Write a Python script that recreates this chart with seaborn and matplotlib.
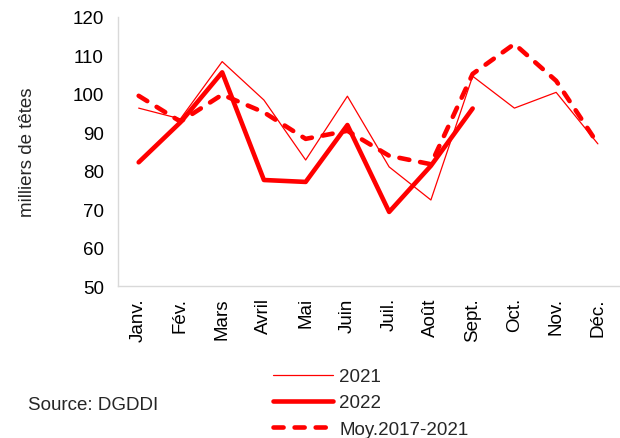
import pandas as pd
import matplotlib.pyplot as plt
import seaborn as sns

months = ["Janv.", "Fév.", "Mars", "Avril", "Mai", "Juin", "Juil.", "Août",
          "Sept.", "Oct.", "Nov.", "Déc."]
y2021 = [96.3, 93.5, 108.4, 98.4, 82.8, 99.4, 81.0, 72.4, 104.6, 96.3, 100.4, 87.0]
y2022 = [82.2, 92.6, 105.6, 77.6, 77.1, 91.9, 69.3, 81.3, 96.2]
ymoy = [99.5, 92.8, 99.8, 95.2, 88.3, 90.4, 83.9, 81.7, 105.2, 113.0, 103.4, 87.0]

sns.set_style("white")
plt.rcParams['font.family'] = ['Liberation Sans', 'DejaVu Sans']

fig = plt.figure(figsize=(6.2, 4.39), dpi=100)
ax = fig.add_axes([0.19, 0.346, 0.808, 0.613])

red = "#ff0000"
fs = 13.5
sns.lineplot(x=months, y=y2021, ax=ax, color=red, linewidth=0.9, sort=False, label="2021")
sns.lineplot(x=months[:len(y2022)], y=y2022, ax=ax, color=red, linewidth=3.3,
             sort=False, label="2022")
sns.lineplot(x=months, y=ymoy, ax=ax, color=red, linewidth=3.3, sort=False,
             label="Moy.2017-2021", linestyle=(0, (2.2, 2.4)), dash_capstyle="round")

ax.set_xlim(-0.5, 11.5)
ax.set_ylim(50, 120)
ax.set_yticks(range(50, 121, 10))
ax.tick_params(axis="both", length=0, labelsize=fs, colors="black")
ax.tick_params(axis="x", rotation=90, pad=8)
ax.tick_params(axis="y", pad=10)
ax.set_ylabel("milliers de têtes", fontsize=fs, labelpad=26)
ax.set_xlabel("")
for s in ["top", "right"]:
    ax.spines[s].set_visible(False)
for s in ["left", "bottom"]:
    ax.spines[s].set_color("#d9d9d9")
    ax.spines[s].set_linewidth(1.0)

ax.legend(loc="center left", bbox_to_anchor=(0.425, 0.080), bbox_transform=fig.transFigure,
          frameon=False, fontsize=fs, handlelength=3.2, labelspacing=0.48,
          handletextpad=0.35, borderpad=0)

fig.text(0.045, 0.077, "Source: DGDDI", fontsize=fs, va="center")

fig.savefig("out.png", dpi=100)
